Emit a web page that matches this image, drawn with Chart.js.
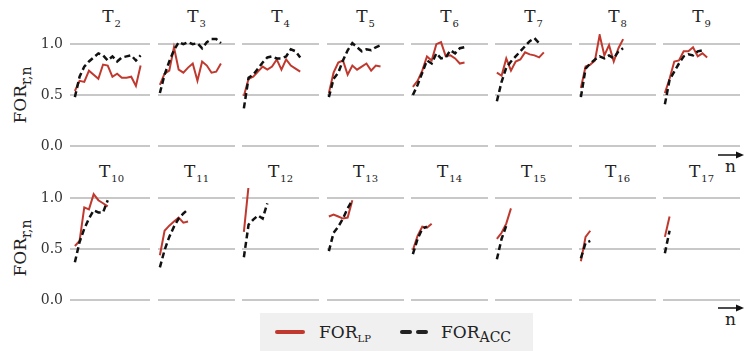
<!DOCTYPE html>
<html>
<head>
<meta charset="utf-8">
<script src="https://cdn.jsdelivr.net/npm/chart.js@4.4.0/dist/chart.umd.min.js"></script>
<style>
  body { margin: 0; width: 747px; height: 351px; background: #fff; position: relative; overflow: hidden;
         font-family: 'DejaVu Serif', serif; color: #222; }
  canvas { position: absolute; }
  .ttl { position: absolute; width: 77px; text-align: center; font-size: 17px; line-height: 20px; }
  .ttl sub { font-size: 10px; vertical-align: baseline; position: relative; top: 5px; margin-left: 1px; }
  .ylab { position: absolute; width: 90px; height: 20px; line-height: 20px; text-align: center;
          font-size: 17px; transform: rotate(-90deg); }
  .ylab sub { font-size: 14px; vertical-align: baseline; position: relative; top: 5px; }
  .nlab { position: absolute; font-size: 17px; }
  #legend { position: absolute; left: 260px; top: 313px; width: 273px; height: 40px; background: #f0f0f0; }
  #legend .sw { position: absolute; top: 17px; height: 4px; border-radius: 2px; }
  #legend .txt { position: absolute; top: 8px; font-size: 17px; line-height: 22px; }
  #legend sub { vertical-align: baseline; position: relative; top: 4px; }
</style>
</head>
<body>
<svg width="747" height="351" style="position:absolute;left:0;top:0">
  <line x1="718" y1="155" x2="738" y2="155" stroke="#111" stroke-width="1.5"/>
  <polygon points="744,155 736,151.5 736,158.5" fill="#111"/>
  <line x1="718" y1="308" x2="738" y2="308" stroke="#111" stroke-width="1.5"/>
  <polygon points="744,308 736,304.5 736,311.5" fill="#111"/>
</svg>
<div class="nlab" style="left:725px;top:156px">n</div>
<div class="nlab" style="left:725px;top:309px">n</div>
<div class="ylab" style="left:-25px;top:85px">FOR<sub>r,n</sub></div>
<div class="ylab" style="left:-25px;top:238px">FOR<sub>r,n</sub></div>
<div id="legend">
  <span class="sw" style="left:15px;width:30px;background:#c0392f"></span>
  <span class="txt" style="left:59px">FOR<sub style="font-size:10px">LP</sub></span>
  <span class="sw" style="left:140px;width:12px;background:#222"></span>
  <span class="sw" style="left:156px;width:12px;background:#222"></span>
  <span class="txt" style="left:181px">FOR<sub style="font-size:14px">ACC</sub></span>
</div>
<script>
const panels = [2, 3, 4, 5, 6, 7, 8, 9, 10, 11, 12, 13, 14, 15, 16, 17];
const yTicks = [0, 0.5, 1.0];

// FOR_LP per panel (red, solid)
const lpSeries = [
  [0.54, 0.64, 0.63, 0.74, 0.70, 0.66, 0.80, 0.79, 0.68, 0.71, 0.67, 0.67, 0.68, 0.59, 0.79],
  [0.60, 0.71, 0.74, 0.97, 0.75, 0.72, 0.77, 0.81, 0.64, 0.83, 0.79, 0.72, 0.73, 0.81],
  [0.49, 0.66, 0.68, 0.73, 0.78, 0.75, 0.78, 0.85, 0.75, 0.85, 0.79, 0.76, 0.73],
  [0.52, 0.72, 0.82, 0.84, 0.70, 0.79, 0.75, 0.78, 0.81, 0.74, 0.79, 0.78],
  [0.58, 0.64, 0.74, 0.88, 0.84, 1.00, 1.02, 0.88, 0.89, 0.86, 0.81, 0.82],
  [0.72, 0.69, 0.86, 0.74, 0.83, 0.85, 0.92, 0.90, 0.89, 0.87, 0.92],
  [0.57, 0.78, 0.80, 0.84, 1.09, 0.89, 0.99, 0.83, 0.96, 1.05],
  [0.52, 0.66, 0.83, 0.84, 0.93, 0.93, 0.97, 0.88, 0.91, 0.87],
  [0.53, 0.58, 0.91, 0.89, 1.04, 0.98, 0.95, 0.92],
  [0.44, 0.68, 0.73, 0.77, 0.81, 0.76, 0.77],
  [0.67, 1.12, 1.11],
  [0.82, 0.84, 0.82, 0.80, 0.81, 0.98],
  [0.49, 0.63, 0.72, 0.71, 0.75],
  [0.60, 0.66, 0.75, 0.90],
  [0.38, 0.62, 0.68],
  [0.62, 0.82]
];

// FOR_ACC per panel (black, dashed)
const accSeries = [
  [0.48, 0.68, 0.78, 0.83, 0.87, 0.91, 0.89, 0.84, 0.88, 0.83, 0.87, 0.88, 0.89, 0.84, 0.89],
  [0.52, 0.70, 0.83, 0.94, 1.02, 1.00, 1.02, 1.00, 1.01, 0.96, 1.02, 1.05, 1.05, 1.01],
  [0.37, 0.67, 0.70, 0.76, 0.82, 0.87, 0.88, 0.86, 0.86, 0.88, 0.95, 0.93, 0.87],
  [0.48, 0.66, 0.72, 0.84, 0.94, 1.01, 0.97, 0.93, 0.95, 0.94, 0.97, 0.99],
  [0.50, 0.60, 0.72, 0.84, 0.81, 0.91, 0.86, 0.87, 0.94, 0.91, 0.96, 0.97],
  [0.44, 0.63, 0.77, 0.83, 0.88, 0.93, 0.98, 1.03, 1.06, 1.01],
  [0.48, 0.76, 0.81, 0.85, 0.88, 0.86, 0.89, 0.86, 0.93, 0.96],
  [0.41, 0.65, 0.73, 0.81, 0.88, 0.90, 0.89, 0.93, 0.94],
  [0.37, 0.57, 0.70, 0.80, 0.88, 0.86, 0.86, 0.98],
  [0.32, 0.49, 0.62, 0.72, 0.80, 0.85, 0.89],
  [0.42, 0.74, 0.79, 0.83, 0.80, 0.95],
  [0.48, 0.66, 0.72, 0.80, 0.90, 0.98],
  [0.45, 0.60, 0.70, 0.72],
  [0.40, 0.60, 0.73],
  [0.41, 0.56, 0.58],
  [0.46, 0.68]
];

const PANEL_X = [73, 158, 242, 327, 411, 495, 579, 663];
const PANEL_W = 77;
const AREA_TOP = [34, 188];
const AREA_H = 112;
const PAD = 4;

const toPts = arr => arr.map((v, i) => ({ x: i, y: v }));

panels.forEach((p, idx) => {
  const row = Math.floor(idx / 8), col = idx % 8;
  const first = col === 0;
  const axisW = first ? 73 : 0;

  const t = document.createElement('div');
  t.className = 'ttl';
  t.style.left = PANEL_X[col] + 'px';
  t.style.top = (row ? 161 : 6) + 'px';
  t.innerHTML = 'T<sub>' + p + '</sub>';
  document.body.appendChild(t);

  const cv = document.createElement('canvas');
  cv.width = PANEL_W + axisW;
  cv.height = AREA_H + 2 * PAD;
  cv.style.left = (PANEL_X[col] - axisW) + 'px';
  cv.style.top = (AREA_TOP[row] - PAD) + 'px';
  document.body.appendChild(cv);

  new Chart(cv, {
    type: 'line',
    data: {
      datasets: [
        { data: toPts(lpSeries[idx]), borderColor: '#c0392f', borderWidth: 2, pointRadius: 0, order: 2 },
        { data: toPts(accSeries[idx]), borderColor: '#111', borderWidth: 2.5, borderDash: [6, 3.5],
          pointRadius: 0, order: 1 }
      ]
    },
    options: {
      responsive: false,
      animation: false,
      layout: { padding: { top: PAD, bottom: PAD, left: 0, right: 0 } },
      plugins: { legend: { display: false }, tooltip: { enabled: false } },
      scales: {
        x: { type: 'linear', min: -0.4, max: 16, display: false },
        y: {
          min: 0, max: 1.1,
          afterBuildTicks: s => { s.ticks = yTicks.map(v => ({ value: v })); },
          afterFit: s => { s.width = axisW; s.paddingTop = 0; s.paddingBottom = 0; },
          border: { display: false },
          grid: { color: '#c8c8c8', lineWidth: 2, drawTicks: first, tickLength: 3 },
          ticks: {
            display: first, padding: 7, color: '#333',
            font: { family: 'DejaVu Serif', size: 14 },
            callback: v => v.toFixed(1)
          }
        }
      }
    }
  });
});
</script>
</body>
</html>
